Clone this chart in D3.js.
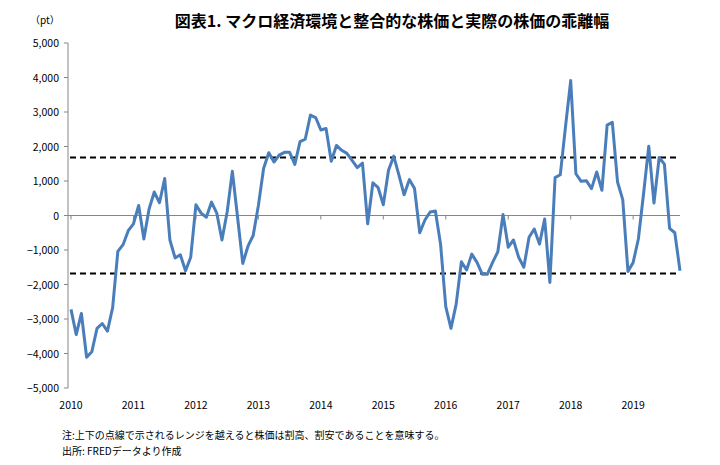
<!DOCTYPE html>
<html><head><meta charset="utf-8">
<script src="https://cdn.jsdelivr.net/npm/d3@7"></script>
<style>body{margin:0;background:#fff}text{font-family:"Noto Sans CJK JP","Noto Sans",sans-serif}</style>
</head><body><svg id="c" width="720" height="465"></svg>
<script>
const years = ["2010","2011","2012","2013","2014","2015","2016","2017","2018","2019"];
const yTicks = [5000,4000,3000,2000,1000,0,-1000,-2000,-3000,-4000,-5000];
const gap = [
-2720,-3450,-2840,-4110,-3950,-3270,-3130,-3350,-2670,-1040,-845,-440,
-240,290,-680,190,680,370,1070,-710,-1230,-1140,-1600,-1210,
310,70,-50,390,70,-710,100,1280,-50,-1390,-890,-580,
290,1360,1820,1550,1750,1830,1830,1480,2140,2210,2910,2840,
2480,2520,1570,2030,1890,1800,1600,1390,1520,-240,950,810,
310,1310,1720,1170,600,1040,780,-500,-130,100,130,-830,
-2640,-3270,-2570,-1340,-1580,-1120,-1360,-1700,-1700,-1360,-1050,30,
-920,-710,-1210,-1500,-630,-390,-830,-100,-1940,1100,1180,2570,
3910,1210,990,1010,780,1260,730,2620,2700,970,460,-1620,
-1360,-680,630,2010,360,1680,1490,-370,-500,-1600];
const band = [1680,-1680];
const title = "図表1. マクロ経済環境と整合的な株価と実際の株価の乖離幅";
const notes = ["注:上下の点線で示されるレンジを越えると株価は割高、割安であることを意味する。","出所: FREDデータより作成"];

const svg = d3.select("#c");
const x = d3.scaleLinear().domain([0,117]).range([71,680]);
const y = d3.scaleLinear().domain([-5000,5000]).range([388,43]);
const fmt = d3.format(",");

svg.append("text").attr("x",392).attr("y",27).attr("text-anchor","middle")
  .attr("font-size",16).attr("font-weight","bold").text(title);
svg.append("text").attr("x",30).attr("y",24).attr("font-size",10).text("（pt）");

// y axis
const ya = svg.append("g");
ya.append("line").attr("x1",68).attr("x2",68).attr("y1",y(5000)).attr("y2",y(-5000)).attr("stroke","#868686");
yTicks.forEach(v=>{
  ya.append("line").attr("x1",64).attr("x2",68).attr("y1",y(v)).attr("y2",y(v)).attr("stroke","#868686");
  ya.append("text").attr("x",59).attr("y",y(v)+4).attr("text-anchor","end").attr("font-size",10.5).text(fmt(v));
});
// zero axis
svg.append("line").attr("x1",68).attr("x2",680).attr("y1",y(0)).attr("y2",y(0)).attr("stroke","#868686");
years.forEach((t,i)=>{
  const xx = x(i*12);
  svg.append("line").attr("x1",xx).attr("x2",xx).attr("y1",y(0)).attr("y2",y(0)+4).attr("stroke","#868686");
  svg.append("text").attr("x",xx).attr("y",409).attr("text-anchor","middle").attr("font-size",10.5).text(t);
});
// band lines
band.forEach(b=>svg.append("line").attr("x1",70).attr("x2",680).attr("y1",y(b)).attr("y2",y(b))
  .attr("stroke","#000").attr("stroke-width",2).attr("stroke-dasharray","6,4"));
// series
svg.append("path").datum(gap).attr("fill","none").attr("stroke","#4a7ebb").attr("stroke-width",3)
  .attr("stroke-linejoin","round")
  .attr("d",d3.line().x((d,i)=>x(i)).y(d=>y(d)));
notes.forEach((n,i)=>svg.append("text").attr("x",62).attr("y",439+i*16).attr("font-size",10).text(n));
</script></body></html>
